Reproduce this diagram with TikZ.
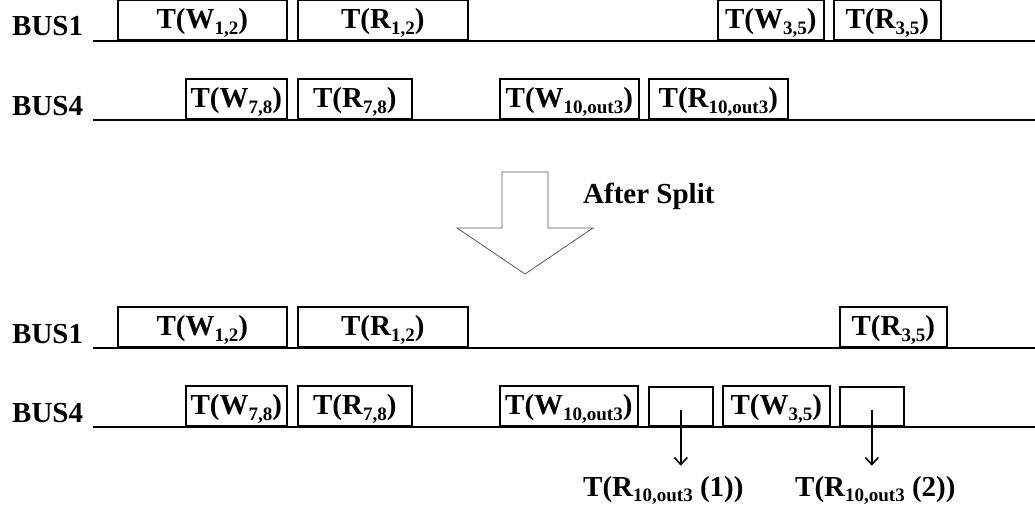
\documentclass[tikz,border=0pt]{standalone}
\usepackage{fontspec}
\setmainfont{Liberation Serif}
\usepackage{tikz}
\usetikzlibrary{positioning,arrows.meta}
\newcommand{\lowsub}[1]{\raisebox{-0.2em}{\fontsize{19}{19}\selectfont #1}}

\begin{document}
\begin{tikzpicture}[x=1pt,y=-1pt,>={Straight Barb[length=7pt,width=13pt,line width=1.6pt]},
  font=\fontsize{29}{30}\selectfont\bfseries,
  bus/.style={line width=1.6pt},
  slot/.style={draw,line width=1.6pt,minimum height=40pt,inner sep=0pt,
    text height=22pt,text depth=6pt,anchor=south west},
  buslbl/.style={anchor=base west,inner sep=0pt}]
  \useasboundingbox (0,0) rectangle (1035,514);
  % bus lines
  \foreach \y in {41,120,348,427} \draw[bus] (93,\y) -- (1035,\y);
  % before the split
  \node[buslbl] (bus1) at (12,35) {BUS1};
  \node[buslbl] (bus4) at (12,115) {BUS4};
  \node[slot,minimum width=169pt] (w12) at (117,41) {T(W\lowsub{1,2})};
  \node[slot,minimum width=170pt] (r12) at (297,41) {T(R\lowsub{1,2})};
  \node[slot,minimum width=106pt] (w35) at (717,41) {T(W\lowsub{3,5})};
  \node[slot,minimum width=107pt] (r35) at (833,41) {T(R\lowsub{3,5})};
  \node[slot,minimum width=101pt] (w78) at (185,120) {T(W\lowsub{7,8})};
  \node[slot,minimum width=114pt] (r78) at (297,120) {T(R\lowsub{7,8})};
  \node[slot,minimum width=139pt] (w10) at (499,120) {T(W\lowsub{10,out3})};
  \node[slot,minimum width=139pt] (r10) at (648,120) {T(R\lowsub{10,out3})};
  % block arrow
  \draw[line width=0.8pt,gray!70!black] (502,172) -- (548,172) -- (548,228) -- (593,228)
    -- (525,274) -- (457,228) -- (502,228) -- cycle;
  \node[buslbl] (split) at (583,203) {After Split};
  % after the split
  \node[buslbl] (bus1b) at (12,343) {BUS1};
  \node[buslbl] (bus4b) at (12,422) {BUS4};
  \node[slot,minimum width=169pt] (w12b) at (117,348) {T(W\lowsub{1,2})};
  \node[slot,minimum width=170pt] (r12b) at (297,348) {T(R\lowsub{1,2})};
  \node[slot,minimum width=107pt] (r35b) at (839,348) {T(R\lowsub{3,5})};
  \node[slot,minimum width=101pt] (w78b) at (185,427) {T(W\lowsub{7,8})};
  \node[slot,minimum width=114pt] (r78b) at (297,427) {T(R\lowsub{7,8})};
  \node[slot,minimum width=138pt] (w10b) at (499,427) {T(W\lowsub{10,out3})};
  \node[slot,minimum width=64pt,minimum height=39pt] (e1) at (648,427) {};
  \node[slot,minimum width=107pt] (w35b) at (722,427) {T(W\lowsub{3,5})};
  \node[slot,minimum width=64pt,minimum height=39pt] (e2) at (839,427) {};
  % the two halves of R10,out3
  \node[buslbl] (half1) at (583,496) {T(R\lowsub{10,out3} (1))};
  \node[buslbl] (half2) at (795,496) {T(R\lowsub{10,out3} (2))};
  \draw[->,line width=1.4pt,shorten >=10pt] ([yshift=-3pt]e1.center) -- (e1.center |- half1.north);
  \draw[->,line width=1.4pt,shorten >=10pt] ([yshift=-3pt]e2.center) -- (e2.center |- half2.north);
\end{tikzpicture}
\end{document}
